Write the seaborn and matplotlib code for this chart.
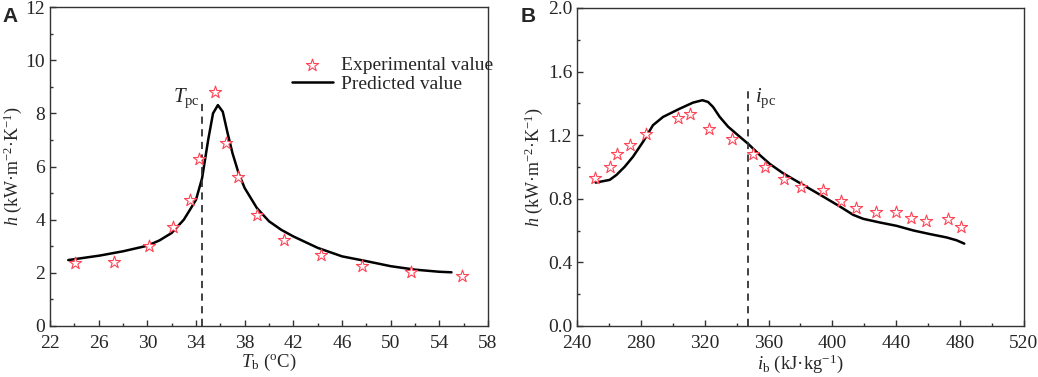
import numpy as np
import pandas as pd
import matplotlib
matplotlib.use("Agg")
import matplotlib.pyplot as plt
import seaborn as sns
from matplotlib.ticker import MultipleLocator, FixedLocator, FormatStrFormatter

# ---- Panel A data ----
a_exp_T = [24.05, 27.26, 30.1, 32.1, 33.48, 34.22, 35.59, 36.47, 37.48, 39.01, 41.26, 44.3, 47.64, 51.7, 55.86]
a_exp_h = [2.375, 2.40, 3.0, 3.74, 4.75, 6.29, 8.81, 6.875, 5.59, 4.19, 3.25, 2.675, 2.275, 2.025, 1.875]
a_pred_T = [23.5, 26.1, 28, 30, 31, 32, 33, 33.5, 34, 34.5, 35, 35.4, 35.8, 36.2, 36.6, 37, 37.5, 38,
            39, 40, 41, 42, 44, 46, 48, 50, 52, 54, 55]
a_pred_h = [2.48, 2.65, 2.81, 3.02, 3.22, 3.5, 4.0, 4.37, 4.75, 5.56, 7.0, 8.0, 8.31, 8.06, 7.25, 6.5, 5.75, 5.19,
            4.44, 3.94, 3.62, 3.37, 2.94, 2.62, 2.44, 2.25, 2.12, 2.04, 2.02]
T_pc = 34.5
a_xticks = [22, 26, 30, 34, 38, 42, 46, 50, 54, 58]

# ---- Panel B data ----
b_exp_i = [251.3, 260.5, 264.9, 273.0, 283.0, 303.3, 310.8, 322.5, 337.2, 350.3, 357.8, 369.5, 380.2,
           394.4, 405.3, 414.7, 427.4, 439.8, 449.0, 458.6, 472.1, 480.3]
b_exp_h = [0.929, 1.002, 1.079, 1.138, 1.207, 1.309, 1.336, 1.242, 1.177, 1.081, 1.002, 0.923, 0.877,
           0.856, 0.787, 0.741, 0.716, 0.716, 0.681, 0.660, 0.672, 0.624]
b_pred_i = [251.7, 260.5, 264.7, 269.9, 275.1, 281.4, 287.6, 293.9, 304.4, 312.7, 318.6, 322.1, 325.2,
            329.4, 334.7, 342.0, 347.4, 354.5, 360.8, 369.2, 381.7, 394.2, 404.6, 413.0, 419.3, 429.7,
            440.2, 450.6, 461.1, 471.5, 477.8, 482.6]
b_pred_h = [0.902, 0.919, 0.950, 1.002, 1.065, 1.159, 1.263, 1.315, 1.367, 1.405, 1.42, 1.409, 1.378,
            1.315, 1.253, 1.19, 1.144, 1.075, 1.019, 0.960, 0.887, 0.814, 0.752, 0.699, 0.674, 0.651,
            0.630, 0.601, 0.578, 0.557, 0.539, 0.518]
i_pc = 347.4

sns.set_style("ticks")
plt.rcParams["font.family"] = ["Liberation Serif", "DejaVu Serif"]
plt.rcParams["mathtext.fontset"] = "custom"
plt.rcParams["mathtext.rm"] = "Liberation Serif"
plt.rcParams["mathtext.it"] = "Liberation Serif:italic"
plt.rcParams["xtick.direction"] = "in"
plt.rcParams["ytick.direction"] = "in"
plt.rcParams["axes.linewidth"] = 1.0

fig = plt.figure(figsize=(10.38, 3.77), dpi=100)
axA = fig.add_axes([50/1038, 51/377, 438/1038, 319/377])
axB = fig.add_axes([577/1038, 51/377, 447/1038, 318/377])

star_kw = dict(marker="*", s=85, facecolor="white", edgecolor="#ff4455", linewidth=0.8)
fs_tick = 14
fs_lab = 13.5

def style(ax):
    for sp in ax.spines.values():
        sp.set_color("#333333")
    ax.tick_params(which="major", length=4, width=1, labelsize=fs_tick, color="#333333")
    ax.tick_params(which="minor", length=2.5, width=1, color="#333333")
    ax.tick_params(axis="x", which="major", pad=6.5)
    ax.tick_params(axis="y", which="major", pad=3.5)

# Panel A
dfA_e = pd.DataFrame({"T": a_exp_T, "h": a_exp_h})
dfA_p = pd.DataFrame({"T": a_pred_T, "h": a_pred_h})
sns.lineplot(data=dfA_p, x="T", y="h", ax=axA, color="black", linewidth=1.8, label="Predicted value", sort=False)
sns.scatterplot(data=dfA_e, x="T", y="h", ax=axA, label="Experimental value", zorder=3, **star_kw)
axA.plot([T_pc, T_pc], [0, 8.5], color="#333333", linestyle=(0, (4, 3)), linewidth=1.3)
axA.text(T_pc - 0.15, 8.55, r"$T_{\rm pc}$", ha="right", va="center", fontsize=15)
axA.set_xlim(22, 58)
axA.set_ylim(0, 12)
axA.xaxis.set_major_locator(FixedLocator(a_xticks))
axA.xaxis.set_minor_locator(MultipleLocator(2))
axA.yaxis.set_major_locator(MultipleLocator(2))
axA.yaxis.set_minor_locator(MultipleLocator(1))
axA.set_xlabel(r"$T_{\rm b}$ ($^{\rm o}$C)", fontsize=fs_lab, labelpad=0)
axA.set_ylabel(r"$h$ (kW·m$^{-2}$·K$^{-1}$)", fontsize=13, labelpad=1)
style(axA)
h, l = axA.get_legend_handles_labels()
order = [l.index("Experimental value"), l.index("Predicted value")]
axA.legend([h[i] for i in order], [l[i] for i in order], loc="upper left",
           bbox_to_anchor=(0.53, 0.875), frameon=False, fontsize=14, handlelength=2.1,
           handletextpad=0.45, labelspacing=0.05, borderpad=0)

# Panel B
dfB_e = pd.DataFrame({"i": b_exp_i, "h": b_exp_h})
dfB_p = pd.DataFrame({"i": b_pred_i, "h": b_pred_h})
sns.lineplot(data=dfB_p, x="i", y="h", ax=axB, color="black", linewidth=1.8, sort=False, legend=False)
sns.scatterplot(data=dfB_e, x="i", y="h", ax=axB, zorder=3, legend=False, **star_kw)
axB.plot([i_pc, i_pc], [0, 1.486], color="#333333", linestyle=(0, (4, 3)), linewidth=1.3)
axB.text(i_pc + 4, 1.43, r"$i_{\rm pc}$", ha="left", va="center", fontsize=15)
axB.set_xlim(240, 520)
axB.set_ylim(0, 2.0)
axB.xaxis.set_major_locator(MultipleLocator(40))
axB.xaxis.set_minor_locator(MultipleLocator(20))
axB.yaxis.set_major_locator(MultipleLocator(0.4))
axB.yaxis.set_minor_locator(MultipleLocator(0.2))
axB.yaxis.set_major_formatter(FormatStrFormatter("%.1f"))
axB.set_xlabel(r"$i_{\rm b}$ (kJ·kg$^{-1}$)", fontsize=fs_lab, labelpad=0)
axB.set_ylabel(r"$h$ (kW·m$^{-2}$·K$^{-1}$)", fontsize=13, labelpad=2)
style(axB)

fig.text(2/1038, 1 - 16/377, "A", fontsize=15, fontweight="bold", family="Liberation Sans", va="center", ha="left")
fig.text(521/1038, 1 - 16/377, "B", fontsize=15, fontweight="bold", family="Liberation Sans", va="center", ha="left")

fig.savefig("out.png", dpi=100)
